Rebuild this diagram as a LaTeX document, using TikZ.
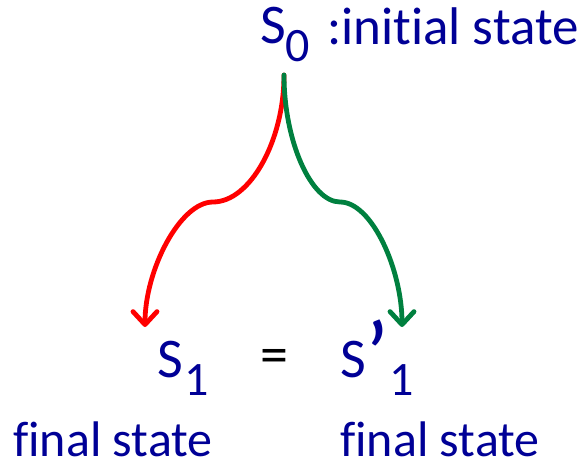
\documentclass[tikz,border=0pt]{standalone}
\usepackage{fontspec}
\setmainfont{Carlito}[Ligatures={NoCommon,NoContextual}]
\usetikzlibrary{arrows.meta}
\definecolor{sblue}{HTML}{000096}
\definecolor{sred}{HTML}{FF0000}
\definecolor{sgreen}{HTML}{00803F}
\tikzset{
  every node/.style={inner sep=0pt, text=sblue},
  big/.style={font=\fontsize{50}{56}\selectfont},
  lbl/.style={anchor=base west, big, text depth=0pt},
  ttl/.style={anchor=base west, font=\fontsize{53}{58}\selectfont},
  stt/.style={anchor=base west, font=\fontsize{56}{60}\selectfont},
  flow/.style={line width=4.8pt, line cap=round,
               -{Straight Barb[length=13pt,width=24pt,round]}},
  redflow/.style={flow, draw=sred},
  greenflow/.style={flow, draw=sgreen},
}
\newcommand{\subsc}[1]{\raisebox{-18pt}{\fontsize{48}{48}\selectfont #1}}
\newcommand{\primemark}{\raisebox{-10pt}{\fontsize{96}{96}\selectfont ’}}

\begin{document}
\begin{tikzpicture}[x=1pt,y=-1pt]
\useasboundingbox (0,0) rectangle (583,465);

% ---------------- states ------------------------------------------------------
\node[stt] (s0) at (260,44) {S\subsc{0}};
\node[ttl] (init) at (327,45) {:initial state};

\node[stt] (s1) at (157,377) {S\kern2pt\subsc{1}};
\node[font=\fontsize{56}{60}\selectfont, text=black] (eq) at (274,361) {=};
\node[stt] (s1p) at (340,377) {S\primemark\subsc{1}};

\node[lbl] (fin1) at (13,456) {final state};
\node[lbl] (fin2) at (340,456) {final state};

% ---------------- branch points -----------------------------------------------
\coordinate (fork) at (284,75);
\coordinate (rbend) at (213,202);
\coordinate (rtip) at (145,327);
\coordinate (gbend) at (340,202);
\coordinate (gtip) at (402,327);

% ---------------- arrows ------------------------------------------------------
\draw[redflow] (fork) .. controls +(0,66) and +(37,0) .. (rbend)
  .. controls +(-33,0) and +(0,-57) .. (rtip);
\draw[greenflow] (fork) .. controls +(0,66) and +(-29,0) .. (gbend)
  .. controls +(32,0) and +(0,-57) .. (gtip);

\end{tikzpicture}
\end{document}
